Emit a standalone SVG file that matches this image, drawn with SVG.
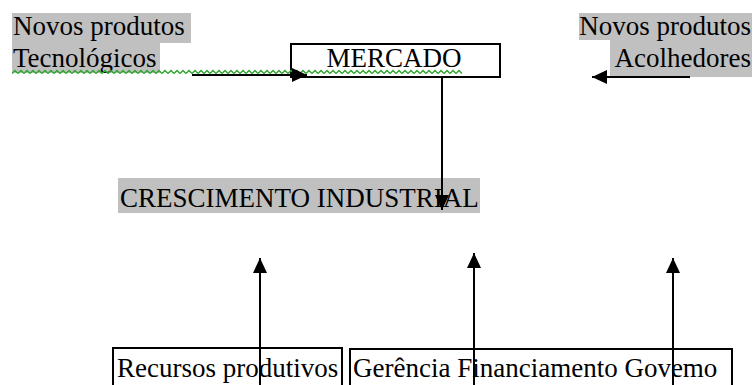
<svg xmlns="http://www.w3.org/2000/svg" width="756" height="385" viewBox="0 0 756 385">
<style>
text{font-family:"Liberation Serif","Times New Roman",serif;font-size:27px;fill:#000}
.hl{fill:#c0c0c0}
.box{fill:#fff;stroke:#000;stroke-width:2}
.con{stroke:#000;stroke-width:2;fill:none;marker-end:url(#ah)}
</style>
<defs>
<marker id="ah" markerUnits="userSpaceOnUse" markerWidth="16" markerHeight="14" refX="15" refY="7" orient="auto">
<path d="M0,0 L15,7 L0,14 z" fill="#000"/>
</marker>
<pattern id="wave" patternUnits="userSpaceOnUse" x="12" y="69" width="6" height="6">
<path d="M0,4.5 L3,1.5 L6,4.5" fill="none" stroke="#2fa52f" stroke-width="1.5"/>
</pattern>
</defs>
<g id="novos-tecnologicos">
<rect class="hl" x="12" y="13" width="179" height="30"/>
<rect class="hl" x="12" y="43" width="148" height="30"/>
<text x="13" y="35">Novos produtos</text>
<text x="13" y="67">Tecnológicos</text>
</g>
<g id="mercado">
<rect class="box" x="291" y="44" width="209" height="33"/>
<text x="394" y="67" text-anchor="middle">MERCADO</text>
</g>
<rect x="12" y="69" width="450" height="6" fill="url(#wave)"/>
<g id="novos-acolhedores">
<rect class="hl" x="579" y="13" width="173" height="27"/>
<rect class="hl" x="610" y="40" width="142" height="37"/>
<text x="751" y="35" text-anchor="end">Novos produtos</text>
<text x="751" y="67" text-anchor="end">Acolhedores</text>
</g>
<g id="crescimento">
<rect class="hl" x="118" y="178" width="362" height="35"/>
<text x="120" y="207">CRESCIMENTO INDUSTRIAL</text>
</g>
<g id="recursos">
<rect class="box" x="113" y="348" width="229" height="45"/>
<text x="117" y="377">Recursos produtivos</text>
</g>
<g id="gerencia">
<rect class="box" x="350" y="349" width="382" height="45"/>
<text x="353" y="377">Gerência Financiamento Govemo</text>
</g>
<g id="connectors">
<line class="con" x1="192" y1="75" x2="307" y2="75"/>
<line class="con" x1="690" y1="77" x2="592" y2="77"/>
<line class="con" x1="442" y1="77" x2="442" y2="210"/>
<line class="con" x1="260" y1="385" x2="260" y2="258"/>
<line class="con" x1="474" y1="385" x2="474" y2="253"/>
<line class="con" x1="673" y1="385" x2="673" y2="258"/>
</g>
</svg>
